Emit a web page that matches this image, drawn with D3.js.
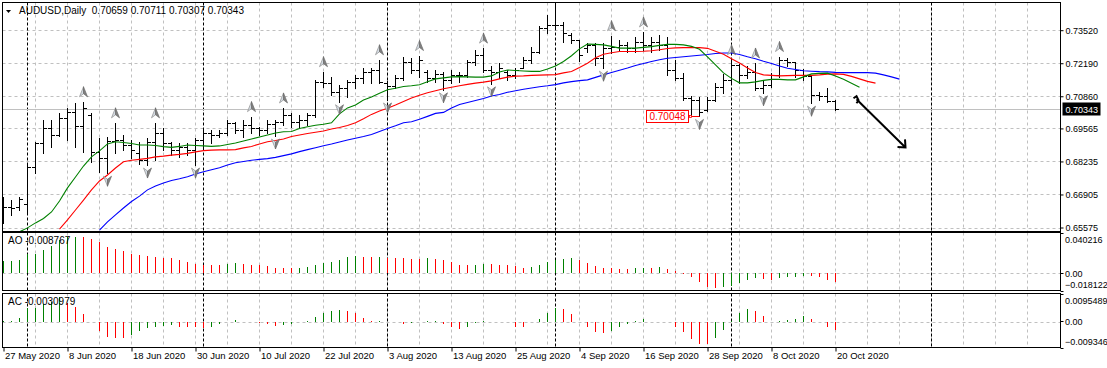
<!DOCTYPE html>
<html>
<head>
<meta charset="utf-8">
<script src="https://cdn.jsdelivr.net/npm/d3@7"></script>
<style>
  html, body { margin: 0; padding: 0; background: #fff; }
  svg { display: block; font-family: "Liberation Sans", Arial, sans-serif; }
</style>
</head>
<body>
<div id="chart"></div>
<script>
// DATA ------------------------

const symbolTitle = "AUDUSD,Daily"
const lastQuote = ["0.70659", "0.70711", "0.70307", "0.70343"]

const dateLabels = ["27 May 2020", "8 Jun 2020", "18 Jun 2020", "30 Jun 2020", "10 Jul 2020",
  "22 Jul 2020", "3 Aug 2020", "13 Aug 2020", "25 Aug 2020", "4 Sep 2020", "16 Sep 2020",
  "28 Sep 2020", "8 Oct 2020", "20 Oct 2020"]
const dateBars = [0, 8, 16, 24, 32, 40, 48, 56, 64, 72, 80, 88, 96, 104]

// bar index where a new month starts (period separators)
const monthStarts = [3, 25, 48, 69, 91, 116]

const priceTicks = [0.73520, 0.72190, 0.70860, 0.69565, 0.68235, 0.66905, 0.65575]
const lastPrice = 0.70343
const markedLow = { bar: 87, price: 0.70048 }

const opens = [0.6608, 0.6640, 0.6640, 0.6652, 0.6801, 0.6898, 0.6958, 0.6930, 0.6999, 0.7023,
  0.6967, 0.7011, 0.6862, 0.6838, 0.6906, 0.6910, 0.6890, 0.6858, 0.6830, 0.6902,
  0.6938, 0.6898, 0.6870, 0.6882, 0.6870, 0.6910, 0.6938, 0.6930, 0.6938, 0.6979,
  0.6950, 0.6971, 0.6958, 0.6950, 0.6975, 0.6983, 0.7011, 0.6983, 0.6991, 0.7011,
  0.7144, 0.7140, 0.7104, 0.7120, 0.7144, 0.7160, 0.7184, 0.7192, 0.7140, 0.7128,
  0.7160, 0.7224, 0.7192, 0.7184, 0.7160, 0.7176, 0.7152, 0.7172, 0.7172, 0.7224,
  0.7253, 0.7192, 0.7184, 0.7184, 0.7172, 0.7200, 0.7233, 0.7265, 0.7361, 0.7374,
  0.7374, 0.7333, 0.7313, 0.7281, 0.7293, 0.7241, 0.7281, 0.7285, 0.7293, 0.7281,
  0.7305, 0.7293, 0.7305, 0.7293, 0.7192, 0.7160, 0.7079, 0.7071, 0.7031, 0.7071,
  0.7124, 0.7152, 0.7212, 0.7172, 0.7184, 0.7120, 0.7132, 0.7172, 0.7233, 0.7224,
  0.7192, 0.7168, 0.7091, 0.7087, 0.70659]
const highs = [0.6682, 0.6668, 0.6682, 0.6809, 0.6903, 0.6991, 0.6991, 0.7019, 0.7039, 0.7059,
  0.7064, 0.7019, 0.6918, 0.6923, 0.6979, 0.6930, 0.6910, 0.6903, 0.6918, 0.6979,
  0.6958, 0.6902, 0.6898, 0.6898, 0.6918, 0.6958, 0.6950, 0.6950, 0.6991, 0.6984,
  0.6991, 0.7004, 0.6964, 0.6991, 0.6991, 0.7039, 0.7019, 0.7011, 0.7019, 0.7152,
  0.7185, 0.7165, 0.7132, 0.7152, 0.7172, 0.7199, 0.7199, 0.7233, 0.7146, 0.7172,
  0.7246, 0.7239, 0.7250, 0.7192, 0.7192, 0.7185, 0.7192, 0.7185, 0.7233, 0.7273,
  0.7280, 0.7206, 0.7219, 0.7192, 0.7199, 0.7246, 0.7286, 0.7367, 0.7414, 0.7454,
  0.7386, 0.7340, 0.7313, 0.7300, 0.7300, 0.7300, 0.7330, 0.7313, 0.7306, 0.7326,
  0.7345, 0.7325, 0.7333, 0.7325, 0.7233, 0.7179, 0.7087, 0.7083, 0.7083, 0.7139,
  0.7176, 0.7233, 0.7216, 0.7206, 0.7220, 0.7152, 0.7179, 0.7246, 0.7240, 0.7224,
  0.7196, 0.7168, 0.7105, 0.7118, 0.70711]
const lows = [0.6576, 0.6608, 0.6628, 0.6616, 0.6776, 0.6857, 0.6883, 0.6926, 0.6910, 0.6883,
  0.6863, 0.6823, 0.6782, 0.6776, 0.6857, 0.6870, 0.6838, 0.6815, 0.6809, 0.6830,
  0.6870, 0.6850, 0.6843, 0.6850, 0.6809, 0.6878, 0.6898, 0.6922, 0.6930, 0.6938,
  0.6923, 0.6938, 0.6930, 0.6938, 0.6926, 0.6971, 0.6964, 0.6964, 0.6971, 0.7004,
  0.7125, 0.7091, 0.7064, 0.7085, 0.7118, 0.7139, 0.7139, 0.7139, 0.7071, 0.7118,
  0.7152, 0.7179, 0.7165, 0.7145, 0.7145, 0.7112, 0.7139, 0.7145, 0.7165, 0.7212,
  0.7185, 0.7136, 0.7159, 0.7152, 0.7159, 0.7199, 0.7219, 0.7259, 0.7340, 0.7360,
  0.7306, 0.7300, 0.7226, 0.7266, 0.7212, 0.7199, 0.7259, 0.7273, 0.7266, 0.7266,
  0.7273, 0.7265, 0.7273, 0.7172, 0.7152, 0.7071, 0.7011, 0.70048, 0.7027, 0.7067,
  0.7098, 0.7139, 0.7139, 0.7159, 0.7110, 0.7100, 0.7125, 0.7165, 0.7206, 0.7165,
  0.7152, 0.7058, 0.7071, 0.7064, 0.70307]
const closes = [0.6640, 0.6636, 0.6672, 0.6801, 0.6898, 0.6958, 0.6930, 0.6999, 0.7023, 0.6967,
  0.7039, 0.6862, 0.6838, 0.6906, 0.6910, 0.6890, 0.6870, 0.6830, 0.6902, 0.6938,
  0.6898, 0.6870, 0.6882, 0.6870, 0.6910, 0.6938, 0.6930, 0.6938, 0.6979, 0.6950,
  0.6971, 0.6958, 0.6950, 0.6975, 0.6983, 0.7011, 0.6983, 0.6991, 0.7011, 0.7144,
  0.7140, 0.7104, 0.7120, 0.7144, 0.7160, 0.7184, 0.7192, 0.7144, 0.7128, 0.7160,
  0.7224, 0.7192, 0.7233, 0.7160, 0.7176, 0.7152, 0.7172, 0.7170, 0.7224, 0.7253,
  0.7192, 0.7184, 0.7200, 0.7172, 0.7192, 0.7233, 0.7265, 0.7361, 0.7374, 0.7372,
  0.7341, 0.7313, 0.7253, 0.7293, 0.7241, 0.7281, 0.7285, 0.7293, 0.7281, 0.7305,
  0.7293, 0.7305, 0.7293, 0.7192, 0.7160, 0.7079, 0.7071, 0.7023, 0.7071, 0.7124,
  0.7152, 0.7212, 0.7172, 0.7184, 0.7120, 0.7132, 0.7172, 0.7233, 0.7224, 0.7192,
  0.7168, 0.7091, 0.7087, 0.7066, 0.70343]

// Alligator lines, already shifted: first value sits on bar "start"
const lipsStart = 2
const lips = [0.6540, 0.6556, 0.6576, 0.6594, 0.6620, 0.6664, 0.6717, 0.6761, 0.6805, 0.6842,
  0.6866, 0.6894, 0.6903, 0.6900, 0.6896, 0.6890, 0.6890, 0.6888, 0.6883, 0.6880,
  0.6884, 0.6890, 0.6888, 0.6886, 0.6884, 0.6886, 0.6892, 0.6898, 0.6906, 0.6914,
  0.6922, 0.6930, 0.6938, 0.6943, 0.6944, 0.6956, 0.6963, 0.6969, 0.6973, 0.6979,
  0.7015, 0.7039, 0.7051, 0.7071, 0.7083, 0.7098, 0.7112, 0.7118, 0.7125, 0.7128,
  0.7132, 0.7144, 0.7156, 0.7160, 0.7164, 0.7165, 0.7164, 0.7163, 0.7163, 0.7168,
  0.7184, 0.7192, 0.7190, 0.7188, 0.7186, 0.7186, 0.7196, 0.7208, 0.7226, 0.7249,
  0.7277, 0.7296, 0.7295, 0.7293, 0.7287, 0.7280, 0.7280, 0.7280, 0.7283, 0.7286,
  0.7291, 0.7295, 0.7295, 0.7293, 0.7287, 0.7275, 0.7245, 0.7212, 0.7180, 0.7158,
  0.7140, 0.7140, 0.7144, 0.7150, 0.7154, 0.7154, 0.7152, 0.7152, 0.7164, 0.7176,
  0.7178, 0.7179, 0.7168, 0.7154, 0.7138, 0.7122]
const teethStart = 7
const teeth = [0.6551, 0.6588, 0.6628, 0.6668, 0.6709, 0.6745, 0.6769, 0.6797, 0.6822, 0.6828,
  0.6832, 0.6836, 0.6842, 0.6845, 0.6849, 0.6852, 0.6856, 0.6862, 0.6867, 0.6869,
  0.6870, 0.6870, 0.6871, 0.6878, 0.6884, 0.6894, 0.6903, 0.6908, 0.6914, 0.6924,
  0.6930, 0.6936, 0.6941, 0.6946, 0.6954, 0.6960, 0.6968, 0.6979, 0.6995, 0.7013,
  0.7027, 0.7038, 0.7051, 0.7065, 0.7079, 0.7090, 0.7100, 0.7108, 0.7116, 0.7122,
  0.7128, 0.7134, 0.7139, 0.7143, 0.7148, 0.7156, 0.7163, 0.7167, 0.7168, 0.7170,
  0.7171, 0.7172, 0.7173, 0.7180, 0.7186, 0.7202, 0.7219, 0.7241, 0.7255, 0.7261,
  0.7266, 0.7266, 0.7266, 0.7267, 0.7269, 0.7273, 0.7278, 0.7281, 0.7282, 0.7282,
  0.7282, 0.7279, 0.7267, 0.7255, 0.7237, 0.7220, 0.7200, 0.7182, 0.7172, 0.7170,
  0.7168, 0.7169, 0.7170, 0.7170, 0.7170, 0.7172, 0.7175, 0.7176, 0.7174, 0.7166,
  0.7156, 0.7146, 0.7139]
const jawStart = 12
const jaw = [0.6547, 0.6580, 0.6608, 0.6636, 0.6662, 0.6684, 0.6709, 0.6725, 0.6737, 0.6747,
  0.6754, 0.6762, 0.6773, 0.6782, 0.6790, 0.6798, 0.6809, 0.6818, 0.6823, 0.6828,
  0.6832, 0.6835, 0.6840, 0.6847, 0.6854, 0.6863, 0.6871, 0.6879, 0.6887, 0.6894,
  0.6902, 0.6910, 0.6917, 0.6924, 0.6932, 0.6944, 0.6956, 0.6967, 0.6979, 0.6983,
  0.6993, 0.7005, 0.7017, 0.7021, 0.7039, 0.7053, 0.7061, 0.7069, 0.7077, 0.7087,
  0.7093, 0.7102, 0.7108, 0.7114, 0.7119, 0.7124, 0.7128, 0.7133, 0.7140, 0.7145,
  0.7149, 0.7152, 0.7162, 0.7172, 0.7182, 0.7191, 0.7200, 0.7210, 0.7218, 0.7226,
  0.7233, 0.7239, 0.7242, 0.7245, 0.7248, 0.7251, 0.7254, 0.7258, 0.7260, 0.7260,
  0.7254, 0.7245, 0.7237, 0.7227, 0.7218, 0.7208, 0.7199, 0.7194, 0.7189, 0.7187,
  0.7185, 0.7184, 0.7182, 0.7181, 0.7181, 0.7181, 0.7181, 0.7179, 0.7172, 0.7164,
  0.7155]

const fractalUps = [10, 14, 19, 31, 35, 40, 47, 52, 60, 69, 76, 80, 91, 94, 97]
const fractalDowns = [13, 18, 24, 34, 42, 48, 55, 61, 75, 87, 95, 101]

const aoValues = [0.0125, 0.0126, 0.0135, 0.0193, 0.0196, 0.0237, 0.0271, 0.0338, 0.0365, 0.0369,
  0.0365, 0.0348, 0.0311, 0.0267, 0.0247, 0.0220, 0.0196, 0.0186, 0.0176, 0.0159,
  0.0156, 0.0149, 0.0129, 0.0118, 0.0095, 0.0085, 0.0084, 0.0083, 0.0088, 0.0098,
  0.0095, 0.0085, 0.0078, 0.0074, 0.0057, 0.0056, 0.0054, 0.0057, 0.0061, 0.0078,
  0.0098, 0.0118, 0.0135, 0.0159, 0.0169, 0.0162, 0.0159, 0.0166, 0.0156, 0.0152,
  0.0149, 0.0148, 0.0139, 0.0149, 0.0139, 0.0129, 0.0108, 0.0085, 0.0084, 0.0086,
  0.0095, 0.0094, 0.0085, 0.0084, 0.0068, 0.0057, 0.0064, 0.0078, 0.0108, 0.0135,
  0.0145, 0.0149, 0.0135, 0.0105, 0.0074, 0.0057, 0.0051, 0.0047, 0.0046, 0.0050,
  0.0057, 0.0056, 0.0060, 0.0047, 0.0017, -0.0004, -0.0044, -0.0085, -0.0142, -0.0152,
  -0.0145, -0.0129, -0.0095, -0.0068, -0.0051, -0.0061, -0.0068, -0.0051, -0.0044, -0.0041,
  -0.0024, -0.0025, -0.0044, -0.0068, -0.008767]
const aoRange = [-0.018122, 0.040216]

const acValues = [0.0001, 0.0002, 0.0014, 0.0047, 0.0048, 0.0061, 0.0068, 0.0088, 0.0065, 0.0053,
  0.0026, -0.0003, -0.0035, -0.0056, -0.0057, -0.0058, -0.0049, -0.0035, -0.0024, -0.0021,
  -0.0014, -0.0013, -0.0018, -0.0019, -0.0020, -0.0024, -0.0018, -0.0009, -0.0002, 0.0004,
  -0.0001, -0.0002, -0.0006, -0.0010, -0.0014, -0.0011, -0.0007, -0.0003, 0.0001, 0.0016,
  0.0029, 0.0038, 0.0041, 0.0038, 0.0029, 0.0012, 0.0002, 0.0003, 0.0000, -0.0002,
  -0.0007, -0.0004, -0.0002, 0.0001, 0.0002, -0.0009, -0.0021, -0.0027, -0.0018, -0.0004,
  0.0003, 0.0000, -0.0001, -0.0003, -0.0018, -0.0019, -0.0002, 0.0010, 0.0029, 0.0047,
  0.0045, 0.0026, 0.0000, -0.0021, -0.0038, -0.0041, -0.0033, -0.0018, -0.0008, 0.0001,
  0.0009, -0.0001, -0.0002, -0.0003, -0.0018, -0.0038, -0.0061, -0.0078, -0.0080, -0.0059,
  -0.0029, 0.0003, 0.0029, 0.0045, 0.0038, 0.0021, 0.0000, 0.0001, 0.0004, 0.0008,
  0.0018, 0.0009, 0.0000, -0.0018, -0.0030979]
const acRange = [-0.009346, 0.0095489]

// forecast arrow drawn on the chart: [bar, price]
const arrowFrom = [106.5, 0.7082]
const arrowTo = [112.75, 0.6880]

// LAYOUT ----------------------

const SVG_WIDTH = 1107
const SVG_HEIGHT = 368
const LEFT = 2.5
const RIGHT = 1060.5
const MAIN = { top: 2.5, bottom: 231.5 }
const AO_PANE = { top: 232.5, bottom: 290.5 }
const AC_PANE = { top: 293.5, bottom: 347.5 }
const GREEN = "#008000"
const RED = "#ff0000"
const GRID = "#c0c0c0"
const AXIS_FONT = "9px"

const svg = d3
  .select("#chart")
  .append("svg")
  .attr("width", SVG_WIDTH)
  .attr("height", SVG_HEIGHT)
  .attr("viewBox", `0 0 ${SVG_WIDTH} ${SVG_HEIGHT}`)

// SCALES ----------------------

const x = d3.scaleLinear().domain([0, 1]).range([3.5, 11.5])
const yMain = d3.scaleLinear().domain([0.65575, 0.7352]).range([227.5, 30.2])
const yAO = d3.scaleLinear().domain(aoRange).range([291, 233.5])
const yAC = d3.scaleLinear().domain(acRange).range([348, 294.5])
const snap = v => Math.round(v) + 0.5

const defs = svg.append("defs")
const panes = [["clip-main", MAIN], ["clip-ao", AO_PANE], ["clip-ac", AC_PANE]]
panes.forEach(([id, p]) => {
  defs
    .append("clipPath")
    .attr("id", id)
    .append("rect")
    .attr("x", LEFT)
    .attr("y", p.top)
    .attr("width", RIGHT - LEFT)
    .attr("height", p.bottom - p.top)
})

// GRID ------------------------

const grid = svg.append("g").attr("fill", "none")
const gridBars = d3.range(4, 129, 4)

panes.forEach(([id, p]) => {
  grid
    .append("g")
    .selectAll("line")
    .data(gridBars)
    .join("line")
    .attr("x1", d => x(d))
    .attr("x2", d => x(d))
    .attr("y1", p.top)
    .attr("y2", p.bottom)
    .attr("stroke", GRID)
    .attr("stroke-dasharray", "3,3")
})

grid
  .selectAll(".hgrid")
  .data(priceTicks)
  .join("line")
  .attr("class", "hgrid")
  .attr("x1", LEFT)
  .attr("x2", RIGHT)
  .attr("y1", d => snap(yMain(d)))
  .attr("y2", d => snap(yMain(d)))
  .attr("stroke", GRID)
  .attr("stroke-dasharray", "3,3")

;[yAO, yAC].forEach(scale => {
  grid
    .append("line")
    .attr("x1", LEFT)
    .attr("x2", RIGHT)
    .attr("y1", snap(scale(0)))
    .attr("y2", snap(scale(0)))
    .attr("stroke", GRID)
    .attr("stroke-dasharray", "3,3")
})

// month separators
panes.forEach(([id, p]) => {
  grid
    .append("g")
    .selectAll("line")
    .data(monthStarts)
    .join("line")
    .attr("x1", d => x(d))
    .attr("x2", d => x(d))
    .attr("y1", p.top)
    .attr("y2", p.bottom)
    .attr("stroke", "#000")
    .attr("stroke-dasharray", "3,2")
})

// current price line
grid
  .append("line")
  .attr("x1", LEFT)
  .attr("x2", RIGHT)
  .attr("y1", snap(yMain(lastPrice)))
  .attr("y2", snap(yMain(lastPrice)))
  .attr("stroke", GRID)

// BARS ------------------------

const main = svg.append("g").attr("clip-path", "url(#clip-main)")

const ohlc = opens.map((o, i) => ({ i, o, h: highs[i], l: lows[i], c: closes[i] }))

main
  .append("g")
  .selectAll("path")
  .data(ohlc)
  .join("path")
  .attr("fill", "none")
  .attr("stroke", "#000")
  .attr("d", d => {
    const cx = x(d.i)
    const top = Math.round(yMain(d.h))
    const bot = Math.round(yMain(d.l)) + 1
    return `M${cx},${top}V${bot}` +
      `M${cx - 3.5},${snap(yMain(d.o))}H${cx}` +
      `M${cx},${snap(yMain(d.c))}H${cx + 3.5}`
  })

// ALLIGATOR -------------------

const line = d3.line().x(d => x(d.i)).y(d => yMain(d.v))
const series = [
  [jaw, jawStart, "#0000ff"],
  [teeth, teethStart, RED],
  [lips, lipsStart, GREEN],
]
series.forEach(([values, start, color]) => {
  main
    .append("path")
    .datum(values.map((v, k) => ({ i: start + k, v })))
    .attr("fill", "none")
    .attr("stroke", color)
    .attr("stroke-width", 1.1)
    .attr("d", line)
})

// FRACTALS --------------------

const fractal = (g, cx, cy, dir) => {
  const s = dir
  g.append("path")
    .attr("d", `M${cx},${cy - 5 * s}L${cx},${cy + 2 * s}L${cx - 4},${cy + 5 * s}Z`)
    .attr("fill", "#d4dce4")
    .attr("stroke", "#8c8c8c")
    .attr("stroke-width", 0.7)
  g.append("path")
    .attr("d", `M${cx},${cy - 5 * s}L${cx + 4},${cy + 5 * s}L${cx},${cy + 2 * s}Z`)
    .attr("fill", "#808080")
    .attr("stroke", "#6a6a6a")
    .attr("stroke-width", 0.7)
}
const gFr = main.append("g")
fractalUps.forEach(i => fractal(gFr, x(i), yMain(highs[i]) - 10, 1))
fractalDowns.forEach(i => fractal(gFr, x(i), yMain(lows[i]) + 8, -1))

// marked low label
const lowX = x(markedLow.bar)
const lowY = snap(yMain(markedLow.price))
const lbl = svg.append("g")
lbl
  .append("line")
  .attr("x1", lowX - 9)
  .attr("x2", lowX)
  .attr("y1", lowY)
  .attr("y2", lowY)
  .attr("stroke", RED)
lbl
  .append("rect")
  .attr("x", lowX - 10)
  .attr("y", lowY - 1)
  .attr("width", 2)
  .attr("height", 2)
  .attr("fill", "#fff")
  .attr("stroke", RED)
  .attr("stroke-width", 0.8)
lbl
  .append("rect")
  .attr("x", lowX - 53)
  .attr("y", lowY - 6)
  .attr("width", 42)
  .attr("height", 12)
  .attr("fill", "#fff")
  .attr("stroke", RED)
lbl
  .append("text")
  .attr("x", lowX - 32)
  .attr("y", lowY + 3.5)
  .attr("text-anchor", "middle")
  .attr("fill", RED)
  .style("font-size", "10px")
  .text(d3.format(".5f")(markedLow.price))

// arrow
const ax0 = x(arrowFrom[0]), ay0 = yMain(arrowFrom[1])
const ax1 = x(arrowTo[0]), ay1 = yMain(arrowTo[1])
svg
  .append("path")
  .attr("fill", "none")
  .attr("stroke", "#000")
  .attr("stroke-width", 2)
  .attr("stroke-linejoin", "miter")
  .attr("d", `M${ax0 - 2},${ay0 + 1}L${ax0 + 1},${ay0 - 1}L${ax0 + 3},${ay0 + 3}L${ax0 + 1},${ay0 + 6}` +
    `M${ax0 + 1},${ay0 + 2}L${ax1},${ay1}` +
    `M${ax1 - 8},${ay1 - 0.5}L${ax1},${ay1}L${ax1 - 0.5},${ay1 - 8}`)

// HISTOGRAMS ------------------

const histogram = (values, scale, clip) => {
  svg
    .append("g")
    .attr("clip-path", `url(#${clip})`)
    .selectAll("line")
    .data(values)
    .join("line")
    .attr("x1", (d, i) => x(i))
    .attr("x2", (d, i) => x(i))
    .attr("y1", Math.round(scale(0)))
    .attr("y2", d => Math.round(scale(d)))
    .attr("stroke", (d, i) => (i === 0 || d > values[i - 1] ? GREEN : RED))
}
histogram(aoValues, yAO, "clip-ao")
histogram(acValues, yAC, "clip-ac")

// AXES ------------------------

const gPrice = svg
  .append("g")
  .attr("transform", `translate(${RIGHT}, 0)`)
  .call(
    d3.axisRight(yMain)
      .tickValues(priceTicks)
      .tickSize(3)
      .tickPadding(2)
      .tickFormat(d3.format(".5f"))
  )
gPrice.select(".domain").remove()
gPrice.selectAll("text").style("font-size", AXIS_FONT).attr("fill", "#000")

const sideLabels = [
  [yAO, aoRange, d3.format(".6f")],
  [yAC, acRange, d3.format(".7f")],
]
sideLabels.forEach(([scale, range, fmt]) => {
  const [lo, hi] = scale.range()
  const g = svg.append("g").style("font-size", AXIS_FONT)
  g.append("text").attr("x", RIGHT + 4.5).attr("y", hi + 9.5).text(fmt(range[1]))
  g.append("text").attr("x", RIGHT + 4.5).attr("y", scale(0) + 3.5).text("0.00")
  g.append("text").attr("x", RIGHT + 4.5).attr("y", lo - 3.5).text(d3.format(".6f")(range[0]))
  ;[hi, scale(0), lo].forEach(v =>
    g.append("line")
      .attr("x1", RIGHT).attr("x2", RIGHT + 3)
      .attr("y1", snap(v - 0.5)).attr("y2", snap(v - 0.5))
      .attr("stroke", "#000"))
})

// current price tag
const py = yMain(lastPrice)
svg
  .append("rect")
  .attr("x", RIGHT + 2)
  .attr("y", Math.round(py) - 6.5)
  .attr("width", 38)
  .attr("height", 13)
  .attr("fill", "#000")
svg
  .append("text")
  .attr("x", RIGHT + 5)
  .attr("y", py + 3.5)
  .attr("fill", "#fff")
  .style("font-size", AXIS_FONT)
  .text(d3.format(".5f")(lastPrice))

const gDates = svg
  .append("g")
  .attr("transform", `translate(0, ${AC_PANE.bottom})`)
  .call(
    d3.axisBottom(x)
      .tickValues(dateBars)
      .tickSize(4)
      .tickFormat((d, i) => dateLabels[i])
  )
gDates.select(".domain").remove()
gDates
  .selectAll("text")
  .attr("text-anchor", "start")
  .attr("x", 1)
  .attr("y", 5)
  .style("font-size", "9.5px")
  .attr("fill", "#000")

// PANE FRAMES & TITLES --------

panes.forEach(([id, p]) => {
  svg
    .append("rect")
    .attr("x", LEFT)
    .attr("y", p.top)
    .attr("width", RIGHT - LEFT)
    .attr("height", p.bottom - p.top)
    .attr("fill", "none")
    .attr("stroke", "#000")
})

svg
  .append("path")
  .attr("d", "M6,10H11L8.5,13Z")
  .attr("fill", "#000")

svg
  .append("text")
  .attr("x", 19)
  .attr("y", 14)
  .style("font-size", "10px")
  .style("white-space", "pre")
  .text(`${symbolTitle}  ${lastQuote.join(" ")}`)

svg
  .append("text")
  .attr("x", 8)
  .attr("y", 244)
  .style("font-size", "10px")
  .style("white-space", "pre")
  .text(`AO ${aoValues[aoValues.length - 1].toFixed(6)}`)

svg
  .append("text")
  .attr("x", 8)
  .attr("y", 305)
  .style("font-size", "10px")
  .style("white-space", "pre")
  .text(`AC ${acValues[acValues.length - 1].toFixed(7)}`)
</script>
</body>
</html>
